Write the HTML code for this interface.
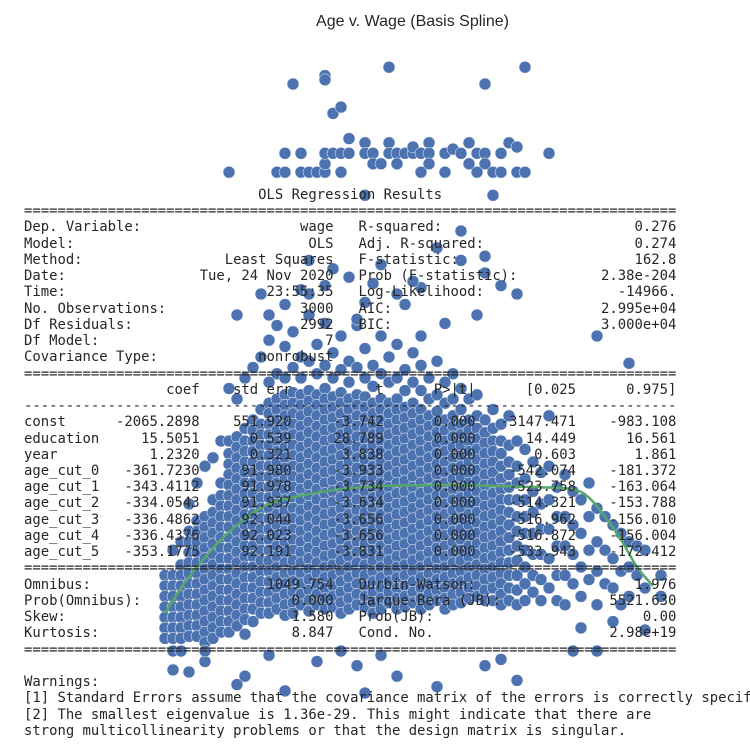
<!DOCTYPE html>
<html><head><meta charset="utf-8">
<style>
html,body{margin:0;padding:0;background:#fff;}
#wrap{position:relative;width:750px;height:750px;overflow:hidden;background:#fff;}
#title{position:absolute;left:0;width:825px;top:13px;text-align:center;font-family:"Liberation Sans",sans-serif;font-size:16px;color:#262626;}
svg{position:absolute;left:0;top:0;}
pre{position:absolute;left:24px;top:187px;margin:0;font-family:"DejaVu Sans Mono","Liberation Mono",monospace;font-size:13.9px;line-height:16.24px;color:#262626;white-space:pre;}
</style></head><body>
<div id="wrap">
<div id="title">Age v. Wage (Basis Spline)</div>
<svg id="plot" width="750" height="750">
<g id="pts"></g>
<path id="fit" fill="none" stroke="#55a868" stroke-width="2.5"></path>
</svg>
<pre>                            OLS Regression Results                            
==============================================================================
Dep. Variable:                   wage   R-squared:                       0.276
Model:                            OLS   Adj. R-squared:                  0.274
Method:                 Least Squares   F-statistic:                     162.8
Date:                Tue, 24 Nov 2020   Prob (F-statistic):          2.38e-204
Time:                        23:55:35   Log-Likelihood:                -14966.
No. Observations:                3000   AIC:                         2.995e+04
Df Residuals:                    2992   BIC:                         3.000e+04
Df Model:                           7                                         
Covariance Type:            nonrobust                                         
==============================================================================
                 coef    std err          t      P&gt;|t|      [0.025      0.975]
------------------------------------------------------------------------------
const      -2065.2898    551.920     -3.742      0.000   -3147.471    -983.108
education     15.5051      0.539     28.789      0.000      14.449      16.561
year           1.2320      0.321      3.838      0.000       0.603       1.861
age_cut_0   -361.7230     91.980     -3.933      0.000    -542.074    -181.372
age_cut_1   -343.4112     91.978     -3.734      0.000    -523.758    -163.064
age_cut_2   -334.0543     91.937     -3.634      0.000    -514.321    -153.788
age_cut_3   -336.4862     92.044     -3.656      0.000    -516.962    -156.010
age_cut_4   -336.4376     92.023     -3.656      0.000    -516.872    -156.004
age_cut_5   -353.1775     92.191     -3.831      0.000    -533.943    -172.412
==============================================================================
Omnibus:                     1049.754   Durbin-Watson:                   1.976
Prob(Omnibus):                  0.000   Jarque-Bera (JB):             5521.630
Skew:                           1.580   Prob(JB):                         0.00
Kurtosis:                       8.847   Cond. No.                     2.98e+19
==============================================================================

Warnings:
[1] Standard Errors assume that the covariance matrix of the errors is correctly specified.
[2] The smallest eigenvalue is 1.36e-29. This might indicate that there are
strong multicollinearity problems or that the design matrix is singular.</pre>
</div>
<script>
// core columns: ages and the wages observed at each age
const coreAges = [18,19,20,21,22,23,24,25,26,27,28,29,30,31,32,33,34,35,36,37,38,39,40,41,42,43,44,45,46,47,48,49,50,51,52,53,54,55,56,57,58,59,60,61,62,63,64,65,66,67,68,69,70,71,72,73,74,75,76,77,78,80];
const coreWages = [
 [76,71,66,61,56,51,46],
 [88,76,71,66,61,56,51,46,40],
 [92,81,76,71,66,61,56,51,46,40],
 [110,97,92,87,82,77,72,67,62,57,52,47],
 [120,102,97,92,87,82,77,72,67,62,57,52,47],
 [128,104,99,94,89,84,79,74,69,64,59,54,49,44],
 [132,112,106,101,96,91,86,81,76,71,66,61,56,51,46],
 [140,120,114,109,104,99,94,89,84,79,74,69,64,59,54,49],
 [165,140,134,129,124,119,114,109,104,99,94,89,84,79,74,69,64,59,54,49],
 [160,142,137,132,127,122,117,112,107,102,97,92,87,82,77,72,67,62,57,52],
 [170,146,140,135,130,125,120,115,110,105,100,95,90,85,80,75,70,65,60,55,48],
 [175,150,145,140,135,130,125,120,115,110,105,100,95,90,85,80,75,70,65,60,54],
 [180,155,148,143,138,133,128,123,118,113,108,103,98,93,88,83,78,73,68,63,58],
 [188,168,158,153,148,143,138,133,128,123,118,113,108,103,98,93,88,83,78,73,68,63,58],
 [195,172,160,155,150,145,140,135,130,125,120,115,110,105,100,95,90,85,80,75,70,65,60],
 [185,170,162,157,152,147,142,137,132,127,122,117,112,107,102,97,92,87,82,77,72,67,62,57],
 [192,175,163,158,153,148,143,138,133,128,123,118,113,108,103,98,93,88,83,78,73,68,63,58],
 [180,170,162,157,152,147,142,137,132,127,122,117,112,107,102,97,92,87,82,77,72,67,62],
 [200,178,164,159,154,149,144,139,134,129,124,119,114,109,104,99,94,89,84,79,74,69,64,59],
 [186,172,162,157,152,147,142,137,132,127,122,117,112,107,102,97,92,87,82,77,72,67,62],
 [196,176,165,160,155,150,145,140,135,130,125,120,115,110,105,100,95,90,85,80,75,70,65,60],
 [182,170,161,156,151,146,141,136,131,126,121,116,111,106,101,96,91,86,81,76,71,66,61],
 [190,174,163,158,153,148,143,138,133,128,123,118,113,108,103,98,93,88,83,78,73,68,63,58],
 [178,168,160,155,150,145,140,135,130,125,120,115,110,105,100,95,90,85,80,75,70,65,60],
 [195,175,162,157,152,147,142,137,132,127,122,117,112,107,102,97,92,87,82,77,72,67,62],
 [184,170,161,156,151,146,141,136,131,126,121,116,111,106,101,96,91,86,81,76,71,66,61],
 [176,166,158,153,148,143,138,133,128,123,118,113,108,103,98,93,88,83,78,73,68,63,58],
 [190,172,160,155,150,145,140,135,130,125,120,115,110,105,100,95,90,85,80,75,70,65,60],
 [180,168,158,153,148,143,138,133,128,123,118,113,108,103,98,93,88,83,78,73,68,63],
 [186,170,160,155,150,145,140,135,130,125,120,115,110,105,100,95,90,85,80,75,70,65,60],
 [174,164,156,151,146,141,136,131,126,121,116,111,106,101,96,91,86,81,76,71,66,61],
 [182,168,158,153,148,143,138,133,128,123,118,113,108,103,98,93,88,83,78,73,68,63],
 [176,164,155,150,145,140,135,130,125,120,115,110,105,100,95,90,85,80,75,70,65,60],
 [170,160,152,147,142,137,132,127,122,117,112,107,102,97,92,87,82,77,72,67,62],
 [178,162,154,149,144,139,134,129,124,119,114,109,104,99,94,89,84,79,74,69,64],
 [168,158,150,145,140,135,130,125,120,115,110,105,100,95,90,85,80,75,70,65,60],
 [172,160,152,147,142,137,132,127,122,117,112,107,102,97,92,87,82,77,72,67,62],
 [165,155,148,143,138,133,128,123,118,113,108,103,98,93,88,83,78,73,68,63],
 [160,150,145,140,135,130,125,120,115,110,105,100,95,90,85,80,75,70,65],
 [162,152,146,141,136,131,126,121,116,111,106,101,96,91,86,81,76,71,66],
 [150,144,139,134,129,124,119,114,109,104,99,94,89,84,79,74,69,64],
 [155,146,140,135,130,125,120,115,110,105,100,95,90,85,80,75,70,64],
 [148,140,134,128,122,117,112,107,102,97,92,87,82,77,72,67,62],
 [152,138,130,124,118,112,106,100,94,88,82,76,70,64],
 [140,128,120,112,104,97,90,83,76,69,62],
 [136,122,112,104,96,88,80,72,64],
 [130,116,106,96,86,76,68],
 [125,110,98,86,74,64],
 [152,128,112,98,84,70],
 [118,104,90,76,64],
 [124,104,90,76,62],
 [116,100,86,72],
 [112,96,80,66],
 [120,104,88,74],
 [108,92,78,62],
 [104,88,72],
 [100,84,70],
 [96,78,62],
 [92,80,66],
 [90,76],
 [88,70],
 [76,66]
];
// scattered observations: [age, wage]
const outlierAges  = [26,32,33,33,35,35,36,37,38,38,38,39,40,40,41,41,43,43,44,44,45,46,46,47,47,48,49,49,50,50,51,51,51,53,53,54,55,56,56,57,57,58,58,59,60,60,61,62,62,63,66,43,59,34,38,38,39,40,46,58,63,50,58,72,76,27,30,33,35,36,38,39,41,43,45,47,49,52,55,58,60,62,55,19,21,23,23,27,28,31,33,37,40,42,43,45,47,52,58,60,62,69,72,78,70,74,31,36,42,48,53,57,44,50];
const outlierWages = [268,268,277,268,277,268,268,268,268,272,277,277,277,268,277,284,282,277,277,272,272,282,277,277,272,277,277,280,277,268,282,277,272,277,268,279,277,282,272,277,268,277,272,268,277,268,282,280,268,268,277,257,257,310,314,312,296,299,318,310,318,213,228,190,177,200,210,205,212,226,214,222,218,206,224,210,216,232,226,220,214,210,240,31,30,35,40,24,28,38,21,35,40,33,20,38,28,23,33,36,26,40,40,50,51,54,200,210,198,205,196,200,215,190];
// fitted spline
const fitAges  = [18,20,22,25,28,31,35,40,45,50,55,60,65,69,71,73,75,77,79];
const fitWages = [58,70,80,93,103,110,114,117,118.5,119,119,118.5,118,117,113,104,93,80,71];

const xS = a => 165 + (a - 18) * 8;
const yS = w => 735 - 2.1 * w;
const NS = 'http://www.w3.org/2000/svg';
const g = document.getElementById('pts');
function dot(a, w) {
  const c = document.createElementNS(NS, 'circle');
  c.setAttribute('cx', xS(a));
  c.setAttribute('cy', yS(w));
  c.setAttribute('r', 6);
  c.setAttribute('fill', '#4c72b0');
  c.setAttribute('stroke', '#ffffff');
  c.setAttribute('stroke-width', '0.5');
  
  
  g.appendChild(c);
}
coreAges.forEach((a, i) => coreWages[i].forEach(w => dot(a, w)));
outlierAges.forEach((a, i) => dot(a, outlierWages[i]));
const P = fitAges.map((a, i) => [xS(a), yS(fitWages[i])]);
let d = 'M' + P[0][0] + ',' + P[0][1];
for (let i = 0; i < P.length - 1; i++) {
  const p0 = P[i - 1] || P[i], p1 = P[i], p2 = P[i + 1], p3 = P[i + 2] || P[i + 1];
  const c1 = [p1[0] + (p2[0] - p0[0]) / 6, p1[1] + (p2[1] - p0[1]) / 6];
  const c2 = [p2[0] - (p3[0] - p1[0]) / 6, p2[1] - (p3[1] - p1[1]) / 6];
  d += ' C' + c1 + ' ' + c2 + ' ' + p2;
}
document.getElementById('fit').setAttribute('d', d);
</script>
</body></html>
